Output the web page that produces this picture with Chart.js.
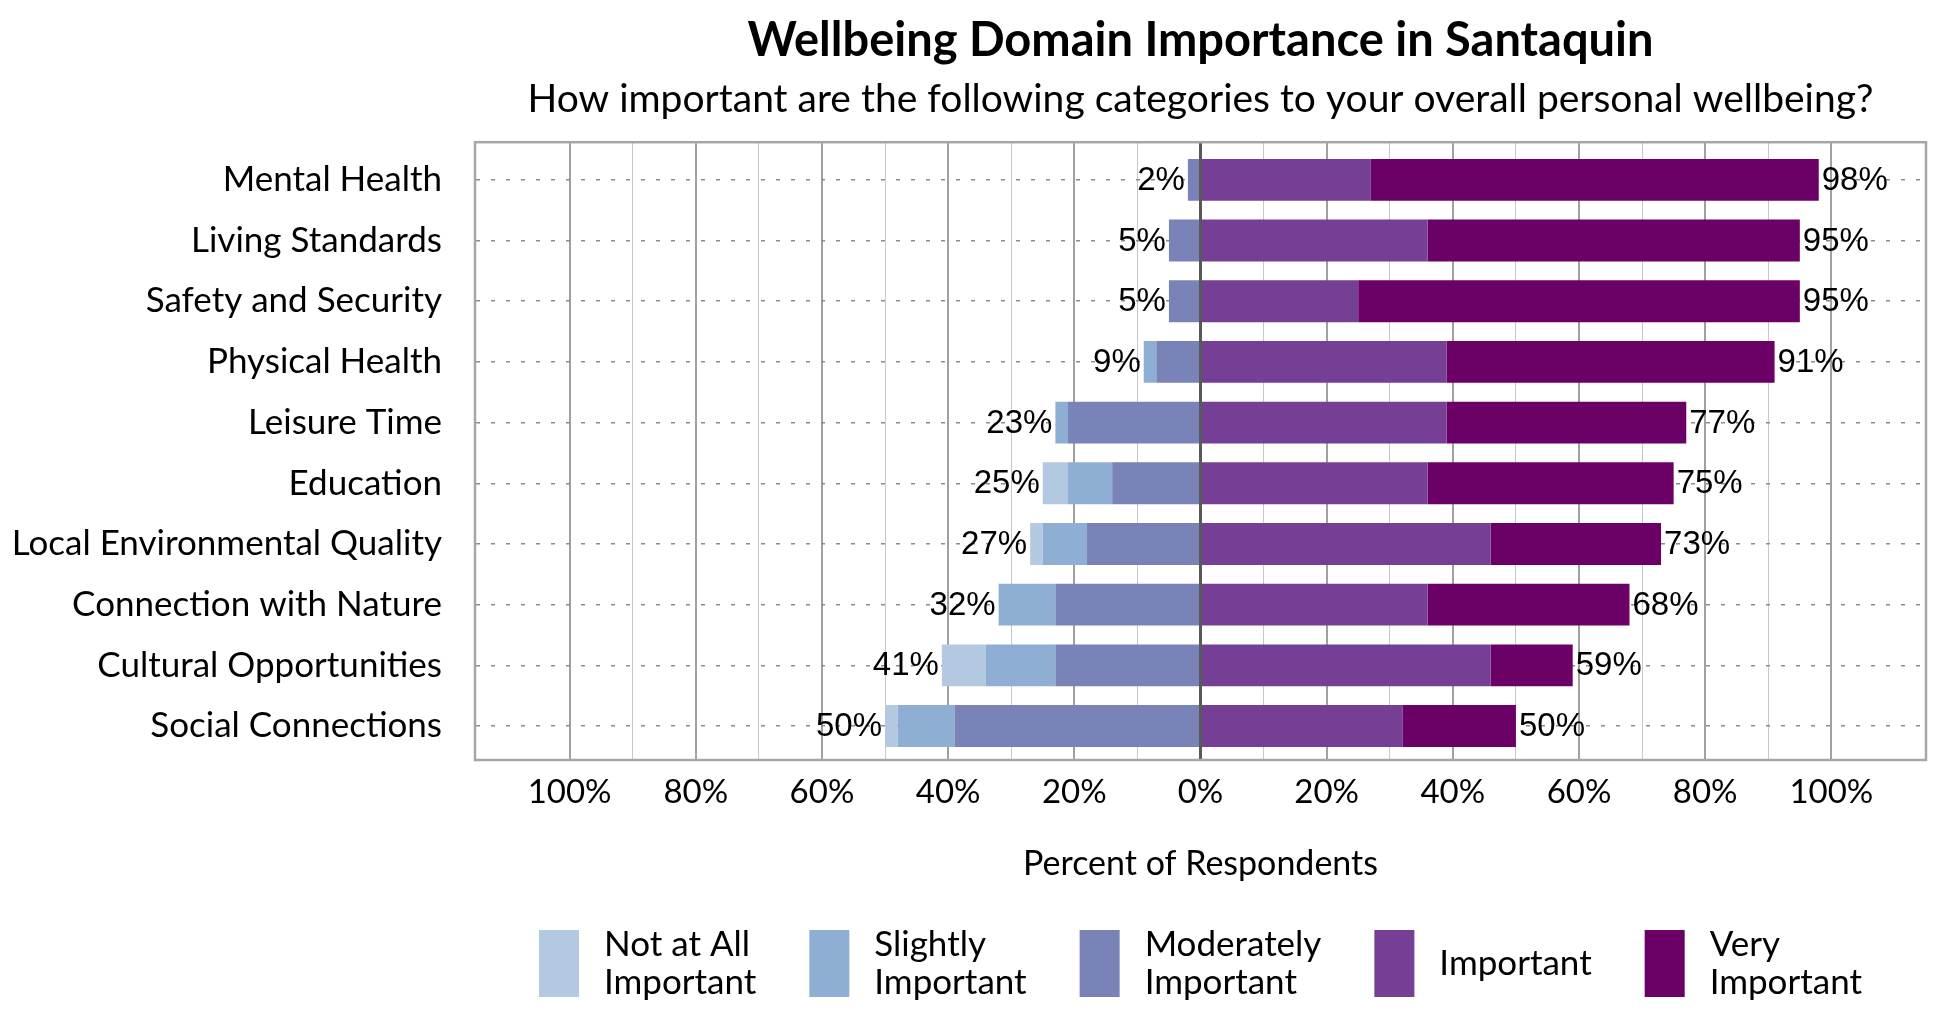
<!DOCTYPE html>
<html>
<head>
<meta charset="utf-8">
<script src="https://cdn.jsdelivr.net/npm/chart.js@4.4.1/dist/chart.umd.min.js"></script>
<style>
html,body{margin:0;padding:0;background:#fff;}
#wrap{width:1950px;height:1020px;}
</style>
</head>
<body>
<div id="wrap"><canvas id="c" width="1950" height="1020"></canvas></div>
<script>
// ---- data ----
const categories = ['Mental Health','Living Standards','Safety and Security','Physical Health','Leisure Time','Education','Local Environmental Quality','Connection with Nature','Cultural Opportunities','Social Connections'];
const notAtAll      = [0, 0, 0, 0, 0, 4, 2, 0, 7, 2];
const slightly      = [0, 0, 0, 2, 2, 7, 7, 9, 11, 9];
const moderately    = [2, 5, 5, 7, 21, 14, 18, 23, 23, 39];
const important     = [27, 36, 25, 39, 39, 36, 46, 36, 46, 32];
const veryImportant = [71, 59, 70, 52, 38, 39, 27, 32, 13, 18];
const negTotals = [2, 5, 5, 9, 23, 25, 27, 32, 41, 50];
const posTotals = [98, 95, 95, 91, 77, 75, 73, 68, 59, 50];
const seriesNames = ['Not at All Important','Slightly Important','Moderately Important','Important','Very Important'];
const legendLines = [['Not at All','Important'],['Slightly','Important'],['Moderately','Important'],['Important'],['Very','Important']];
const xTickValues = [-100,-90,-80,-70,-60,-50,-40,-30,-20,-10,0,10,20,30,40,50,60,70,80,90,100];
const titleText = 'Wellbeing Domain Importance in Santaquin';
const subtitleText = 'How important are the following categories to your overall personal wellbeing?';
const xAxisTitle = 'Percent of Respondents';

// ---- styles ----
const colors = {
  'Not at All Important':'#b3c9e1',
  'Slightly Important':'#8eaed3',
  'Moderately Important':'#7a83b8',
  'Important':'#743f94',
  'Very Important':'#6b0066'
};
const FONT = 'Lato';

const neg = a => a.map(v => -v);
// stacking order: nearest-to-zero first on each side
const datasets = [
  {label: seriesNames[2], data: neg(moderately), backgroundColor: colors[seriesNames[2]]},
  {label: seriesNames[1], data: neg(slightly), backgroundColor: colors[seriesNames[1]]},
  {label: seriesNames[0], data: neg(notAtAll), backgroundColor: colors[seriesNames[0]]},
  {label: seriesNames[3], data: important, backgroundColor: colors[seriesNames[3]]},
  {label: seriesNames[4], data: veryImportant, backgroundColor: colors[seriesNames[4]]}
].map(d => Object.assign(d, {barPercentage: 0.69, categoryPercentage: 1.0, borderWidth: 0}));

const framePlugin = {
  id: 'frame',
  afterDatasetsDraw(chart) {
    const {ctx, chartArea: a, scales: {x}} = chart;
    ctx.save();
    const x0 = x.getPixelForValue(0);
    ctx.strokeStyle = '#595959';
    ctx.lineWidth = 3;
    ctx.beginPath(); ctx.moveTo(x0, a.top); ctx.lineTo(x0, a.bottom); ctx.stroke();
    ctx.strokeStyle = '#a6a6a6';
    ctx.lineWidth = 2.5;
    ctx.strokeRect(a.left, a.top, a.right - a.left, a.bottom - a.top);
    ctx.restore();
  }
};

const labelPlugin = {
  id: 'barLabels',
  afterDatasetsDraw(chart) {
    const {ctx, scales: {x, y}} = chart;
    ctx.save();
    ctx.font = '33px "Liberation Sans", Arial, sans-serif';
    ctx.fillStyle = '#000';
    ctx.textBaseline = 'middle';
    categories.forEach((c, i) => {
      const yc = y.getPixelForValue(i);
      ctx.textAlign = 'right';
      ctx.fillText(negTotals[i] + '%', x.getPixelForValue(-negTotals[i]) - 3, yc + 1);
      ctx.textAlign = 'left';
      ctx.fillText(posTotals[i] + '%', x.getPixelForValue(posTotals[i]) + 3, yc + 1);
    });
    ctx.restore();
  }
};

const legendPlugin = {
  id: 'customLegend',
  afterDraw(chart) {
    const {ctx, chartArea: a} = chart;
    ctx.save();
    ctx.font = '35px ' + FONT;
    const boxW = 40, boxH = 67, textGap = 25, gap = 53;
    const widths = legendLines.map(ls => Math.max(...ls.map(t => ctx.measureText(t).width)));
    const itemW = widths.map(w => boxW + textGap + w);
    const total = itemW.reduce((s, w) => s + w, 0) + gap * (itemW.length - 1);
    let xPos = (a.left + a.right) / 2 - total / 2;
    const top = 930;
    ctx.textBaseline = 'middle';
    ctx.textAlign = 'left';
    seriesNames.forEach((name, i) => {
      ctx.fillStyle = colors[name];
      ctx.fillRect(xPos, top, boxW, boxH);
      ctx.fillStyle = '#000';
      const lines = legendLines[i];
      const cy = top + boxH / 2;
      if (lines.length === 1) {
        ctx.fillText(lines[0], xPos + boxW + textGap, cy);
      } else {
        ctx.fillText(lines[0], xPos + boxW + textGap, cy - 19);
        ctx.fillText(lines[1], xPos + boxW + textGap, cy + 19);
      }
      xPos += itemW[i] + gap;
    });
    ctx.restore();
  }
};

new Chart(document.getElementById('c'), {
  type: 'bar',
  data: {labels: categories, datasets},
  plugins: [framePlugin, labelPlugin, legendPlugin],
  options: {
    indexAxis: 'y',
    responsive: false,
    animation: false,
    devicePixelRatio: 1,
    layout: {padding: {left: 0, right: 24, top: 0, bottom: 135}},
    plugins: {
      legend: {display: false},
      tooltip: {enabled: false},
      title: {
        display: true, text: titleText, fullSize: false, color: '#000',
        font: {family: FONT, size: 47, weight: 'bold', lineHeight: 1.2},
        padding: {top: 13, bottom: 7}
      },
      subtitle: {
        display: true, text: subtitleText, fullSize: false, color: '#000',
        font: {family: FONT, size: 39, weight: 'normal', lineHeight: 1.2},
        padding: {top: 0, bottom: 19}
      }
    },
    scales: {
      x: {
        type: 'linear', stacked: true, min: -115, max: 115,
        afterBuildTicks: s => { s.ticks = xTickValues.map(v => ({value: v})); },
        afterFit: s => { s.height = 125; },
        ticks: {
          autoSkip: false, maxRotation: 0, padding: 13, color: '#000',
          font: {family: FONT, size: 33},
          callback: v => (v % 20 === 0 ? Math.abs(v) + '%' : '')
        },
        grid: {
          drawTicks: false,
          color: c => (c.tick && c.tick.value % 20 === 0 ? '#a0a0a0' : '#c8c8c8'),
          lineWidth: c => (c.tick && c.tick.value % 20 === 0 ? 2 : 1)
        },
        border: {display: false},
        title: {display: true, text: xAxisTitle, color: '#000', font: {family: FONT, size: 34}, padding: {top: 0, bottom: 1}}
      },
      y: {
        type: 'category', stacked: true, offset: true,
        afterBuildTicks: s => { s._startValue = -0.62; s._valueRange = 10.18; },
        afterFit: s => { s.width = 475; },
        ticks: {color: '#000', padding: 33, font: {family: FONT, size: 35}, autoSkip: false},
        grid: {offset: false, drawTicks: false, color: '#8c8c8c', lineWidth: 1.5, borderDash: [4, 11]},
        border: {display: true, color: '#a6a6a6', width: 2, dash: [4, 11]}
      }
    }
  }
});
</script>
</body>
</html>
